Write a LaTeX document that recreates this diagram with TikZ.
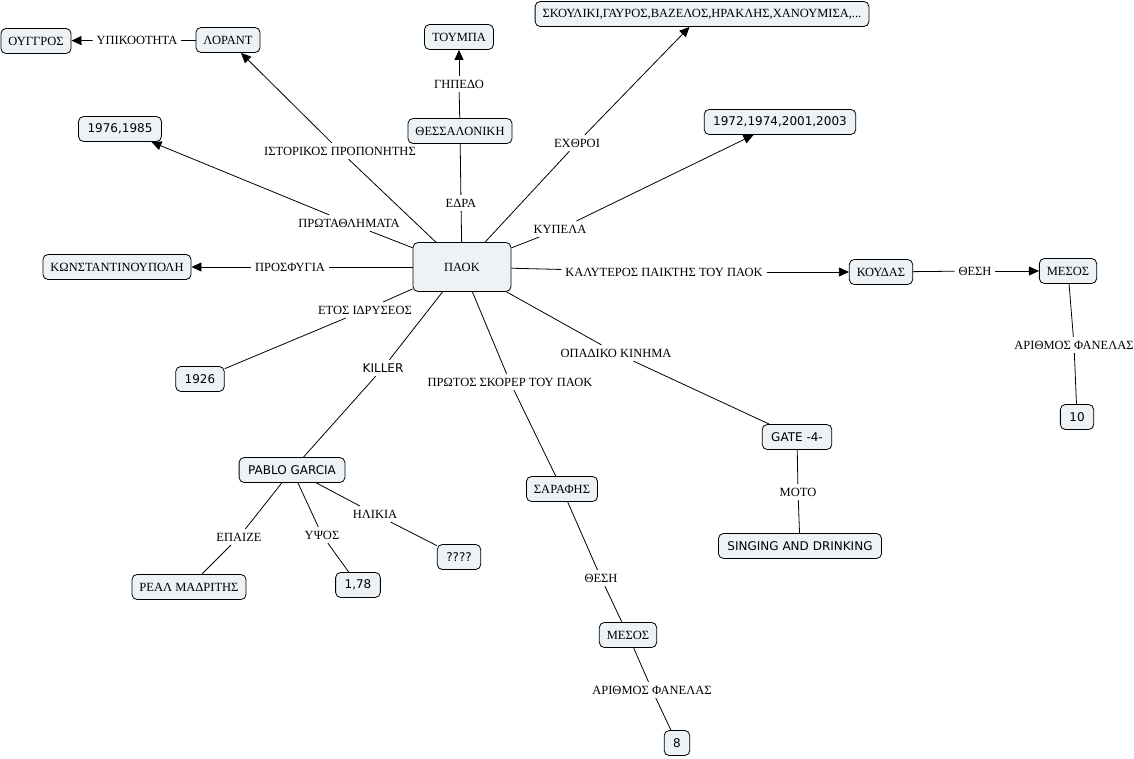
\documentclass[tikz,border=0pt]{standalone}
\usepackage{fontspec}
\setmainfont{Liberation Serif}
\newfontfamily\verd{DejaVu Sans}
\usepackage{tikz}
\usetikzlibrary{arrows.meta}
\definecolor{cmapfill}{RGB}{236,242,245}
\newcommand\cmfont{\fontsize{12.5}{14}\selectfont}
\newcommand\vfont{\fontsize{12}{14}\selectfont\verd}
\tikzset{
  concept/.style={draw, line width=0.8pt, rounded corners=5pt, fill=cmapfill,
    minimum height=25pt, inner xsep=7.5pt, font=\cmfont},
  latin/.style={font=\vfont, inner xsep=9pt},
  link/.style={inner sep=3.5pt, font=\cmfont},
  arr/.style={-{Triangle[length=10pt,width=9pt]}}
}

\begin{document}
\begin{tikzpicture}[x=1pt,y=-1pt,line width=0.8pt]
  \useasboundingbox (0,0) rectangle (1134,759);
  % concepts
  \node[concept, minimum width=98pt, minimum height=49pt] (paok) at (462,267) {ΠΑΟΚ};
  \node[concept] (ougros) at (36,41) {ΟΥΓΓΡΟΣ};
  \node[concept] (lorant) at (228,40) {ΛΟΡΑΝΤ};
  \node[concept] (toumpa) at (459,37) {ΤΟΥΜΠΑ};
  \node[concept] (thess) at (460,131) {ΘΕΣΣΑΛΟΝΙΚΗ};
  \node[concept] (exthroi) at (702,14) {ΣΚΟΥΛΙΚΙ,ΓΑΥΡΟΣ,ΒΑΖΕΛΟΣ,ΗΡΑΚΛΗΣ,ΧΑΝΟΥΜΙΣΑ,...};
  \node[concept, latin] (kypela) at (780,122) {1972,1974,2001,2003};
  \node[concept, latin] (prot) at (120,129) {1976,1985};
  \node[concept] (konst) at (117,267) {ΚΩΝΣΤΑΝΤΙΝΟΥΠΟΛΗ};
  \node[concept] (koudas) at (881,272) {ΚΟΥΔΑΣ};
  \node[concept] (mesosA) at (1068,271) {ΜΕΣΟΣ};
  \node[concept, latin] (ten) at (1077,417) {10};
  \node[concept, latin] (etos) at (200,379) {1926};
  \node[concept, latin] (gate) at (797,437) {GATE -4-};
  \node[concept, latin] (singing) at (800,546) {SINGING AND DRINKING};
  \node[concept] (sarafis) at (562,489) {ΣΑΡΑΦΗΣ};
  \node[concept] (mesosB) at (628,635) {ΜΕΣΟΣ};
  \node[concept, latin] (eight) at (677,743) {8};
  \node[concept, latin] (pablo) at (292,470) {PABLO GARCIA};
  \node[concept] (real) at (189,587) {ΡΕΑΛ ΜΑΔΡΙΤΗΣ};
  \node[concept, latin] (ypsos) at (358,585) {1,78};
  \node[concept, latin] (ilikia) at (459,557) {????};
  % linking phrases
  \node[link] (lUpik) at (137,40) {ΥΠΙΚΟΟΤΗΤΑ};
  \node[link] (lGip) at (459,84) {ΓΗΠΕΔΟ};
  \node[link] (lIst) at (340,151) {ΙΣΤΟΡΙΚΟΣ ΠΡΟΠΟΝΗΤΗΣ};
  \node[link] (lEx) at (577,143) {ΕΧΘΡΟΙ};
  \node[link] (lEdra) at (461,203) {ΕΔΡΑ};
  \node[link] (lProt) at (349,223) {ΠΡΩΤΑΘΛΗΜΑΤΑ};
  \node[link] (lKyp) at (560,229) {ΚΥΠΕΛΑ};
  \node[link] (lPros) at (290,267) {ΠΡΟΣΦΥΓΙΑ};
  \node[link] (lKal) at (664,272) {ΚΑΛΥΤΕΡΟΣ ΠΑΙΚΤΗΣ ΤΟΥ ΠΑΟΚ};
  \node[link] (lThesiA) at (975,271) {ΘΕΣΗ};
  \node[link] (lArA) at (1074,345) {ΑΡΙΘΜΟΣ ΦΑΝΕΛΑΣ};
  \node[link] (lEtos) at (365,310) {ΕΤΟΣ ΙΔΡΥΣΕΟΣ};
  \node[link, font=\vfont] (lKiller) at (383,368) {KILLER};
  \node[link] (lSkorer) at (510,382) {ΠΡΩΤΟΣ ΣΚΟΡΕΡ ΤΟΥ ΠΑΟΚ};
  \node[link] (lOpad) at (616,353) {ΟΠΑΔΙΚΟ ΚΙΝΗΜΑ};
  \node[link] (lMoto) at (798,492) {ΜΟΤΟ};
  \node[link] (lThesiB) at (601,578) {ΘΕΣΗ};
  \node[link] (lArB) at (652,690) {ΑΡΙΘΜΟΣ ΦΑΝΕΛΑΣ};
  \node[link] (lEpaize) at (239,537) {ΕΠΑΙΖΕ};
  \node[link] (lYpsos) at (322,535) {ΥΨΟΣ};
  \node[link] (lIlikia) at (375,514) {ΗΛΙΚΙΑ};
  % connectors
  \draw (lorant) -- (lUpik); \draw[arr] (lUpik) -- (ougros);
  \draw (thess) -- (lGip); \draw[arr] (lGip) -- (toumpa);
  \draw (paok) -- (lIst); \draw[arr] (lIst) -- (lorant);
  \draw (paok) -- (lProt); \draw[arr] (lProt) -- (prot);
  \draw (paok) -- (lEdra) -- (thess);
  \draw (paok) -- (lEx); \draw[arr] (lEx) -- (exthroi);
  \draw (paok) -- (lKyp); \draw[arr] (lKyp) -- (kypela);
  \draw (paok) -- (lPros); \draw[arr] (lPros) -- (konst);
  \draw (paok) -- (lKal); \draw[arr] (lKal) -- (koudas);
  \draw (koudas) -- (lThesiA); \draw[arr] (lThesiA) -- (mesosA);
  \draw (mesosA) -- (lArA) -- (ten);
  \draw (paok) -- (lEtos) -- (etos);
  \draw (paok) -- (lKiller) -- (pablo);
  \draw (paok) -- (lSkorer) -- (sarafis);
  \draw (paok) -- (lOpad) -- (gate);
  \draw (gate) -- (lMoto) -- (singing);
  \draw (sarafis) -- (lThesiB) -- (mesosB);
  \draw (mesosB) -- (lArB) -- (eight);
  \draw (pablo) -- (lEpaize) -- (real);
  \draw (pablo) -- (lYpsos) -- (ypsos);
  \draw (pablo) -- (lIlikia) -- (ilikia);
\end{tikzpicture}
\end{document}
